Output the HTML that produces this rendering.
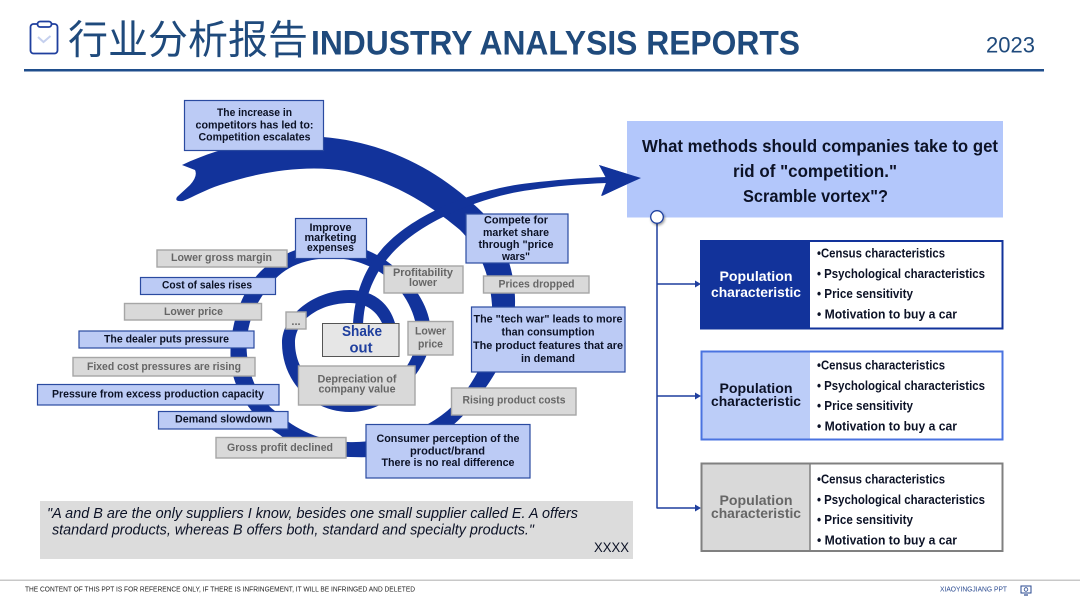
<!DOCTYPE html>
<html><head><meta charset="utf-8"><style>
html,body{margin:0;padding:0;background:#fff;width:1080px;height:608px;overflow:hidden}
svg{display:block}
text{font-family:"Liberation Sans","Noto Sans CJK SC",sans-serif;font-weight:bold;dominant-baseline:central;text-anchor:middle;fill:#0c1226}
.s{font-size:11px}
.g{fill:#666}
.r{font-size:12.5px;text-anchor:start}
.b{fill:#bccbf5;stroke:#2a4aa0;stroke-width:1.2}
.h{fill:#d9d9d9;stroke:#a6a6a6;stroke-width:1.4}
</style></head><body>
<svg width="1080" height="608" viewBox="0 0 1080 608" xmlns="http://www.w3.org/2000/svg">
<defs><filter id="sh" x="-50%" y="-50%" width="200%" height="200%"><feDropShadow dx="1" dy="1.5" stdDeviation="1.2" flood-opacity=".4"/></filter></defs>
<!-- header -->
<rect x="30.5" y="24" width="27" height="29.5" rx="3" fill="none" stroke="#1f3f9e" stroke-width="1.8"/>
<rect x="37.5" y="21.5" width="14" height="5.5" rx="2.7" fill="#fff" stroke="#1f3f9e" stroke-width="1.8"/>
<path d="M38 37l5.500 5 7-6" fill="none" stroke="#c5d0ee" stroke-width="2"/>
<text x="68" y="40.500" textLength="240" lengthAdjust="spacingAndGlyphs" style="font-size:40px;font-weight:normal;text-anchor:start;fill:#1f4a7c;font-family:'Liberation Sans','Noto Sans CJK SC',sans-serif">行业分析报告</text>
<text x="311" y="43.500" textLength="489" lengthAdjust="spacingAndGlyphs" style="font-size:34px;text-anchor:start;fill:#1f4a7c">INDUSTRY ANALYSIS REPORTS</text>
<text x="1010.500" y="45" style="font-size:22px;font-weight:normal;fill:#1f4a7c">2023</text>
<rect x="24" y="69" width="1020" height="2.500" fill="#1f4e8c"/>
<!-- spiral -->
<path fill="#12339b" d="M182,165 C220,147 270,135 323,137 C385,142 440,170 483,213 C505,240 516,275 515,305 C514,340 500,370 480,395 C462,420 440,440 410,450 C395,456 375,458 350,457 C320,456 295,448 280,435 C255,420 235,395 231,365 C228,335 238,295 260,272 C280,252 310,243 335,243 C365,245 385,258 400,272 C420,292 431,312 431,335 C431,365 395,412 350,412 C310,412 282,380 282,343 C282,315 315,290 350,290 C370,290 388,300 395,323 L382,323 C376,310 365,303 350,303 C320,303 295,320 295,343 C295,372 320,400 350,400 C385,400 417,365 417,335 C417,310 395,262 335,258 C300,258 280,270 268,288 C250,310 245,335 247,355 C250,380 260,400 275,411 C290,425 315,441 348,442 C375,443 405,435 428,424 C450,412 465,395 477,373 C488,350 493,325 492,305 C490,275 480,250 460,230 C430,205 395,182 345,171 C310,165 265,170 220,185 C205,190 195,196 183,201 Q174,202 177,197 L190,185 Q198,176 195,170 Z"/>
<path fill="#12339b" d="M353,325 C354,300 362,275 375,258 C390,236 415,220 440,208 C460,198 500,186 530,183 C555,180 580,178 607,177 L599,165 L640,178 L602,196 L607,183 C580,184 555,186 530,190 C500,194 470,204 445,216 C420,228 398,244 384,263 C372,280 364,300 363,325 Z"/>
<!-- left boxes -->
<rect class="b" x="184.500" y="100.500" width="139" height="50"/>
<text class="s" x="254.500" y="113" textLength="75" lengthAdjust="spacingAndGlyphs">The increase in</text>
<text class="s" x="254.500" y="125.500" textLength="118" lengthAdjust="spacingAndGlyphs">competitors has led to:</text>
<text class="s" x="254.500" y="137.500" textLength="112" lengthAdjust="spacingAndGlyphs">Competition escalates</text>

<rect class="h" x="157" y="250" width="130" height="17"/>
<text class="s g" x="221.500" y="258" textLength="101" lengthAdjust="spacingAndGlyphs">Lower gross margin</text>
<rect class="b" x="140.500" y="277.500" width="135" height="17"/>
<text class="s" x="207" y="285.500" textLength="90" lengthAdjust="spacingAndGlyphs">Cost of sales rises</text>
<rect class="h" x="124.500" y="303.500" width="137" height="16.500"/>
<text class="s g" x="193.500" y="312" textLength="59" lengthAdjust="spacingAndGlyphs">Lower price</text>
<rect class="b" x="79" y="331" width="175" height="17"/>
<text class="s" x="166.500" y="339.500" textLength="125" lengthAdjust="spacingAndGlyphs">The dealer puts pressure</text>
<rect class="h" x="73" y="357.500" width="182" height="18.500"/>
<text class="s g" x="164" y="367" textLength="154" lengthAdjust="spacingAndGlyphs">Fixed cost pressures are rising</text>
<rect class="b" x="37.500" y="384.500" width="241.500" height="20.500"/>
<text class="s" x="158" y="394.500" textLength="212" lengthAdjust="spacingAndGlyphs">Pressure from excess production capacity</text>
<rect class="b" x="158.500" y="411.500" width="129.500" height="17.500"/>
<text class="s" x="223.500" y="419.500" textLength="97" lengthAdjust="spacingAndGlyphs">Demand slowdown</text>
<rect class="h" x="216" y="437.500" width="130" height="20.500"/>
<text class="s g" x="280" y="448" textLength="106" lengthAdjust="spacingAndGlyphs">Gross profit declined</text>
<rect class="h" x="286" y="312" width="20" height="17"/>
<text class="s g" x="296" y="322">...</text>

<!-- centre boxes -->
<rect class="b" x="295.500" y="218.500" width="71" height="40"/>
<text class="s" x="330.500" y="228" textLength="42" lengthAdjust="spacingAndGlyphs">Improve</text>
<text class="s" x="330.500" y="238" textLength="52" lengthAdjust="spacingAndGlyphs">marketing</text>
<text class="s" x="330.500" y="248" textLength="47" lengthAdjust="spacingAndGlyphs">expenses</text>
<rect class="h" x="384" y="266" width="79" height="27"/>
<text class="s g" x="423" y="273" textLength="60" lengthAdjust="spacingAndGlyphs">Profitability</text>
<text class="s g" x="423" y="283" textLength="28" lengthAdjust="spacingAndGlyphs">lower</text>
<rect class="h" x="408" y="321.500" width="45" height="33.500"/>
<text class="s g" x="430.500" y="331.500" textLength="31" lengthAdjust="spacingAndGlyphs">Lower</text>
<text class="s g" x="430.500" y="344.500" textLength="25" lengthAdjust="spacingAndGlyphs">price</text>
<rect x="322.500" y="323.500" width="76.500" height="33" fill="#e6e6e6" stroke="#555" stroke-width="1"/>
<text x="362" y="332" textLength="40" lengthAdjust="spacingAndGlyphs" style="font-size:14.500px;fill:#1f3f9e">Shake</text>
<text x="361" y="348.500" textLength="23" lengthAdjust="spacingAndGlyphs" style="font-size:14.500px;fill:#1f3f9e">out</text>
<rect class="h" x="298.500" y="366" width="116.500" height="39"/>
<text class="s g" x="357" y="379.500" textLength="79" lengthAdjust="spacingAndGlyphs">Depreciation of</text>
<text class="s g" x="357" y="389.500" textLength="77" lengthAdjust="spacingAndGlyphs">company value</text>

<!-- right of spiral -->
<rect class="b" x="466" y="214" width="102" height="49"/>
<text class="s" x="516" y="220.500" textLength="64" lengthAdjust="spacingAndGlyphs">Compete for</text>
<text class="s" x="516" y="233" textLength="66" lengthAdjust="spacingAndGlyphs">market share</text>
<text class="s" x="516" y="245" textLength="75" lengthAdjust="spacingAndGlyphs">through "price</text>
<text class="s" x="516" y="257" textLength="28" lengthAdjust="spacingAndGlyphs">wars"</text>
<rect class="h" x="483.500" y="276" width="105.500" height="17"/>
<text class="s g" x="536.500" y="284.500" textLength="76" lengthAdjust="spacingAndGlyphs">Prices dropped</text>
<rect class="b" x="471.500" y="307" width="153.500" height="65"/>
<text class="s" x="548" y="319.500" textLength="149" lengthAdjust="spacingAndGlyphs">The "tech war" leads to more</text>
<text class="s" x="548" y="332.500" textLength="93" lengthAdjust="spacingAndGlyphs">than consumption</text>
<text class="s" x="548" y="346" textLength="150" lengthAdjust="spacingAndGlyphs">The product features that are</text>
<text class="s" x="548" y="359" textLength="54" lengthAdjust="spacingAndGlyphs">in demand</text>
<rect class="h" x="451.500" y="388" width="124.500" height="27"/>
<text class="s g" x="514" y="400.500" textLength="103" lengthAdjust="spacingAndGlyphs">Rising product costs</text>
<rect class="b" x="366" y="424.500" width="164" height="53.500"/>
<text class="s" x="448" y="439" textLength="143" lengthAdjust="spacingAndGlyphs">Consumer perception of the</text>
<text class="s" x="447.500" y="451.500" textLength="75" lengthAdjust="spacingAndGlyphs">product/brand</text>
<text class="s" x="448" y="463" textLength="133" lengthAdjust="spacingAndGlyphs">There is no real difference</text>

<!-- quote -->
<rect x="40" y="501" width="593" height="58" fill="#dcdcdc"/>
<text x="47" y="513.500" textLength="531" lengthAdjust="spacingAndGlyphs" style="font-size:15px;font-weight:normal;font-style:italic;text-anchor:start">"A and B are the only suppliers I know, besides one small supplier called E. A offers</text>
<text x="52" y="530" textLength="482" lengthAdjust="spacingAndGlyphs" style="font-size:15px;font-weight:normal;font-style:italic;text-anchor:start">standard products, whereas B offers both, standard and specialty products."</text>
<text x="611.500" y="547" textLength="35" lengthAdjust="spacingAndGlyphs" style="font-size:14px;font-weight:normal">XXXX</text>

<!-- right panel -->
<rect x="627" y="121" width="376" height="96.500" fill="#b3c7fb"/>
<path d="M599,165 L641,178 L601,196 L607,180 Z" fill="#12339b"/>
<text x="820" y="146" textLength="356" lengthAdjust="spacingAndGlyphs" style="font-size:17.500px">What methods should companies take to get</text>
<text x="815" y="171" textLength="164" lengthAdjust="spacingAndGlyphs" style="font-size:17.500px">rid of "competition."</text>
<text x="815.500" y="196" textLength="145" lengthAdjust="spacingAndGlyphs" style="font-size:17.500px">Scramble vortex"?</text>

<path d="M657 217V508.500M657 284H696M657 396H696M657 508H696" fill="none" stroke="#1f3f9e" stroke-width="1.500"/>
<path d="M695 280.500l6 3.500-6 3.500zM695 392.500l6 3.500-6 3.500zM695 504.500l6 3.500-6 3.500z" fill="#1f3f9e"/>
<circle cx="657" cy="217" r="6.300" fill="#fff" stroke="#1f3f9e" stroke-width="1.300" filter="url(#sh)"/>

<rect x="701" y="241" width="301.500" height="87.500" fill="#fff" stroke="#12339b" stroke-width="2"/>
<rect x="700" y="240" width="110" height="89.500" fill="#12339b"/>
<text x="756" y="276" textLength="73" lengthAdjust="spacingAndGlyphs" style="font-size:14px;fill:#fff">Population</text>
<text x="756" y="292" textLength="90" lengthAdjust="spacingAndGlyphs" style="font-size:14px;fill:#fff">characteristic</text>
<text class="r" x="817" y="253.500" textLength="128" lengthAdjust="spacingAndGlyphs">•Census characteristics</text>
<text class="r" x="817" y="274" textLength="168" lengthAdjust="spacingAndGlyphs">• Psychological characteristics</text>
<text class="r" x="817" y="294" textLength="96" lengthAdjust="spacingAndGlyphs">• Price sensitivity</text>
<text class="r" x="817" y="314.500" textLength="140" lengthAdjust="spacingAndGlyphs">• Motivation to buy a car</text>

<rect x="701" y="351.500" width="109" height="88" fill="#bccdf8"/>
<rect x="701.500" y="351.500" width="301" height="88" fill="none" stroke="#4a73e0" stroke-width="2"/>
<text x="756" y="388" textLength="73" lengthAdjust="spacingAndGlyphs" style="font-size:14px">Population</text>
<text x="756" y="401" textLength="90" lengthAdjust="spacingAndGlyphs" style="font-size:14px">characteristic</text>
<text class="r" x="817" y="365.500" textLength="128" lengthAdjust="spacingAndGlyphs">•Census characteristics</text>
<text class="r" x="817" y="386" textLength="168" lengthAdjust="spacingAndGlyphs">• Psychological characteristics</text>
<text class="r" x="817" y="406" textLength="96" lengthAdjust="spacingAndGlyphs">• Price sensitivity</text>
<text class="r" x="817" y="426.500" textLength="140" lengthAdjust="spacingAndGlyphs">• Motivation to buy a car</text>

<rect x="701" y="463.500" width="109" height="87.500" fill="#d9d9d9"/>
<rect x="701.500" y="463.500" width="301" height="87.500" fill="none" stroke="#808080" stroke-width="2"/>
<path d="M810 464V550" stroke="#808080" stroke-width="1.500"/>
<text class="g" x="756" y="500" textLength="73" lengthAdjust="spacingAndGlyphs" style="font-size:14px">Population</text>
<text class="g" x="756" y="513" textLength="90" lengthAdjust="spacingAndGlyphs" style="font-size:14px">characteristic</text>
<text class="r" x="817" y="479.500" textLength="128" lengthAdjust="spacingAndGlyphs">•Census characteristics</text>
<text class="r" x="817" y="500" textLength="168" lengthAdjust="spacingAndGlyphs">• Psychological characteristics</text>
<text class="r" x="817" y="520" textLength="96" lengthAdjust="spacingAndGlyphs">• Price sensitivity</text>
<text class="r" x="817" y="540.500" textLength="140" lengthAdjust="spacingAndGlyphs">• Motivation to buy a car</text>

<!-- footer -->
<rect x="0" y="579.500" width="1080" height="1.500" fill="#c8c8c8"/>
<text x="25" y="590" textLength="390" lengthAdjust="spacingAndGlyphs" style="font-size:7px;font-weight:normal;text-anchor:start;fill:#222">THE CONTENT OF THIS PPT IS FOR REFERENCE ONLY, IF THERE IS INFRINGEMENT, IT WILL BE INFRINGED AND DELETED</text>
<text x="940" y="590" textLength="67" lengthAdjust="spacingAndGlyphs" style="font-size:7px;font-weight:normal;text-anchor:start;fill:#2a4a90">XIAOYINGJIANG PPT</text>
<rect x="1021" y="586" width="10" height="7" fill="none" stroke="#2a4a90" stroke-width="1"/>
<circle cx="1026" cy="589.500" r="1.800" fill="none" stroke="#2a4a90" stroke-width=".8"/>
<path d="M1024 595h4" stroke="#2a4a90" stroke-width="1.200"/>
</svg>
</body></html>
